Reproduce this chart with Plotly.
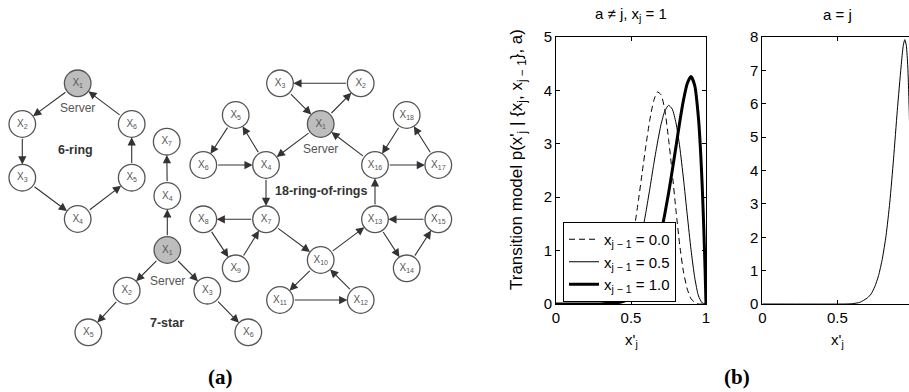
import math
import plotly.graph_objects as go

# ---------------- panel (b) data ----------------
x_left = [0.0, 0.30, 0.325, 0.35, 0.375, 0.40, 0.425, 0.45, 0.475, 0.50, 0.525, 0.55, 0.575,
          0.60, 0.625, 0.65, 0.675, 0.70, 0.725, 0.75, 0.775, 0.80, 0.825, 0.85, 0.875,
          0.90, 0.925, 0.95, 0.975, 1.0]
y_prev00 = [0, 0.01, 0.02, 0.05, 0.10, 0.17, 0.30, 0.48, 0.73, 1.06, 1.47, 1.95, 2.47,
            2.98, 3.44, 3.79, 3.97, 3.92, 3.64, 3.10, 2.45, 1.75, 1.10, 0.60, 0.28,
            0.10, 0.03, 0.0, 0.0, 0.0]
y_prev05 = [0, 0.01, 0.015, 0.03, 0.05, 0.09, 0.15, 0.23, 0.36, 0.52, 0.74, 1.02, 1.35,
            1.73, 2.15, 2.59, 3.00, 3.36, 3.61, 3.72, 3.65, 3.39, 2.94, 2.34, 1.67,
            1.02, 0.49, 0.15, 0.02, 0.0]
x_thick = [0.0, 0.30, 0.35, 0.40, 0.45, 0.50, 0.55, 0.60, 0.65, 0.70, 0.725, 0.75, 0.775,
           0.80, 0.825, 0.85, 0.875, 0.90, 0.925, 0.95, 0.965, 0.975, 0.985, 0.995, 1.0]
y_prev10 = [0, 0.0, 0.01, 0.02, 0.05, 0.11, 0.23, 0.44, 0.80, 1.33, 1.68, 2.07, 2.50,
            2.95, 3.41, 3.82, 4.13, 4.26, 4.09, 3.47, 2.80, 2.19, 1.44, 0.53, 0.0]
x_right = [0.0, 0.55, 0.60, 0.65, 0.70, 0.725, 0.75, 0.775, 0.80, 0.825, 0.85, 0.875, 0.90,
           0.925, 0.94, 0.95, 0.96, 0.97, 0.98, 0.99, 1.0]
y_right = [0, 0.0, 0.01, 0.05, 0.18, 0.30, 0.52, 0.85, 1.35, 2.05, 3.05, 4.35, 5.80,
           7.10, 7.75, 7.92, 7.75, 7.10, 5.70, 3.40, 0.0]

legend_names = ["x<sub>j − 1</sub> = 0.0", "x<sub>j − 1</sub> = 0.5", "x<sub>j − 1</sub> = 1.0"]
x_tickvals = [0, 0.5, 1]
x_ticktext = ["0", "0.5", "1"]
y_ticks_left = [0, 1, 2, 3, 4, 5]
y_ticks_right = [0, 1, 2, 3, 4, 5, 6, 7, 8]

# ---------------- panel (a) network diagrams ----------------
ring6_nodes = {1: (77.7, 83.3), 2: (22.3, 124), 3: (22.3, 177.7), 4: (77.7, 219),
               5: (131.7, 177.7), 6: (131.7, 124)}
ring6_edges = [(1, 2), (2, 3), (3, 4), (4, 5), (5, 6), (6, 1)]

star7_nodes = {1: (167.3, 250), 2: (126.7, 290.7), 3: (207.3, 290.7), 4: (167.3, 196),
               5: (88.3, 332.3), 6: (248.3, 332.3), 7: (166.7, 141.7)}
star7_edges = [(1, 4), (4, 7), (1, 2), (2, 5), (1, 3), (3, 6)]

rr_nodes = {1: (320.7, 124), 2: (360.7, 83.3), 3: (280, 83.3), 4: (266, 165),
            5: (235.7, 115), 6: (203.3, 165), 7: (266, 219.3), 8: (203.3, 219.3),
            9: (235.7, 268.3), 10: (320.7, 260), 11: (280, 300), 12: (360.7, 300),
            13: (375, 219.3), 14: (406.7, 268.3), 15: (438.3, 219.3), 16: (375, 165),
            17: (438.3, 165), 18: (406.7, 115)}
rr_edges = [(2, 3), (3, 1), (1, 2), (1, 4), (4, 5), (5, 6), (6, 4), (4, 7), (7, 8), (8, 9),
            (9, 7), (7, 10), (10, 11), (11, 12), (12, 10), (10, 13), (15, 13), (13, 14),
            (14, 15), (13, 16), (16, 17), (17, 18), (18, 16), (16, 1)]

graphs = [(ring6_nodes, ring6_edges, "6-ring", (75, 150), (77.7, 108)),
          (star7_nodes, star7_edges, "7-star", (167.3, 322.7), (167.3, 280.7)),
          (rr_nodes, rr_edges, "18-ring-of-rings", (320.7, 191), (320.7, 149.3))]

W, H = 909, 392
R = 13.3
fig = go.Figure()

# curves
fig.add_trace(go.Scatter(x=x_left, y=y_prev00, mode="lines", name=legend_names[0],
                         line=dict(color="black", width=1, dash="6px,4px", shape="spline", smoothing=0.6),
                         xaxis="x", yaxis="y"))
fig.add_trace(go.Scatter(x=x_left, y=y_prev05, mode="lines", name=legend_names[1],
                         line=dict(color="black", width=1, shape="spline", smoothing=0.6),
                         xaxis="x", yaxis="y"))
fig.add_trace(go.Scatter(x=x_thick, y=y_prev10, mode="lines", name=legend_names[2],
                         line=dict(color="black", width=3, shape="spline", smoothing=0.6),
                         xaxis="x", yaxis="y"))
fig.add_trace(go.Scatter(x=x_right, y=y_right, mode="lines", showlegend=False,
                         line=dict(color="black", width=1, shape="spline", smoothing=0.6),
                         xaxis="x2", yaxis="y2"))

annotations = []
# network nodes
nx, ny, ntext, nfill = [], [], [], []
for nodes, edges, gname, gpos, spos in graphs:
    for k, (px, py) in nodes.items():
        nx.append(px); ny.append(py)
        ntext.append("X<sub>%d</sub>" % k)
        nfill.append("#bdbdbd" if k == 1 else "white")
    for a, b in edges:
        xa, ya = nodes[a]; xb, yb = nodes[b]
        d = math.hypot(xb - xa, yb - ya)
        ux, uy = (xb - xa) / d, (yb - ya) / d
        annotations.append(dict(x=xb - ux * R, y=yb - uy * R, ax=xa + ux * R, ay=ya + uy * R,
                                xref="x3", yref="y3", axref="x3", ayref="y3", text="",
                                showarrow=True, arrowhead=2, arrowsize=1.5, arrowwidth=1.1,
                                arrowcolor="#333", standoff=0, startstandoff=0))
    annotations.append(dict(x=gpos[0], y=gpos[1], xref="x3", yref="y3", text="<b>%s</b>" % gname,
                            xanchor="center", yanchor="middle",
                            showarrow=False, font=dict(family="Arial", size=12.5, color="#333")))
    annotations.append(dict(x=spos[0], y=spos[1], xref="x3", yref="y3", text="Server",
                            xanchor="center", yanchor="middle",
                            showarrow=False, font=dict(family="Arial", size=12, color="#555")))

fig.add_trace(go.Scatter(x=nx, y=ny, mode="markers", showlegend=False, hoverinfo="skip",
                         marker=dict(size=2 * R, color=nfill, line=dict(color="#555", width=1.3)),
                         xaxis="x3", yaxis="y3"))
fig.add_trace(go.Scatter(x=nx, y=ny, mode="text", text=ntext, showlegend=False, hoverinfo="skip",
                         textfont=dict(family="Arial", size=10, color="#555"),
                         xaxis="x3", yaxis="y3"))


def ptext(px, py, text, font, **kw):
    return dict(x=px / W, y=1 - py / H, xref="paper", yref="paper", text=text, showarrow=False,
                xanchor="center", yanchor="middle", font=font, **kw)


lab = dict(family="Arial", size=15, color="black")
annotations += [
    ptext(631, 15, "a ≠ j, x<sub>j</sub> = 1", dict(family="Arial", size=15, color="black")),
    ptext(837, 15, "a = j", dict(family="Arial", size=15, color="black")),
    ptext(631, 340, "x'<sub>j</sub>", lab),
    ptext(837, 340, "x'<sub>j</sub>", lab),
    ptext(518, 160, "Transition model p(x'<sub>j</sub> | {x<sub>j</sub>, x<sub>j − 1</sub>}, a)",
          dict(family="Arial", size=17, color="black"), textangle=-90),
    ptext(220, 377, "<b>(a)</b>", dict(family="Liberation Serif", size=21, color="black")),
    ptext(737, 377, "<b>(b)</b>", dict(family="Liberation Serif", size=21, color="black")),
]

ax_common = dict(showline=True, linecolor="black", linewidth=1, ticks="inside", ticklen=4,
                 tickcolor="black", showgrid=False, zeroline=False,
                 tickfont=dict(family="Arial", size=15, color="black"))

fig.update_layout(
    width=W, height=H, autosize=False,
    margin=dict(l=0, r=0, t=0, b=0, pad=0, autoexpand=False),
    paper_bgcolor="white", plot_bgcolor="rgba(0,0,0,0)",
    xaxis=dict(domain=[556 / W, 706 / W], range=[0, 1], tickvals=x_tickvals, ticktext=x_ticktext,
               mirror="ticks", anchor="y", **ax_common),
    yaxis=dict(domain=[1 - 304 / H, 1 - 37 / H], range=[0, 5], tickvals=y_ticks_left,
               mirror="ticks", anchor="x", **ax_common),
    xaxis2=dict(domain=[762.3 / W, 1], range=[0, (W - 762.3) / 150], tickvals=x_tickvals,
                ticktext=x_ticktext, mirror="ticks", anchor="y2", **ax_common),
    yaxis2=dict(domain=[1 - 304 / H, 1 - 37 / H], range=[0, 8], tickvals=y_ticks_right,
                mirror=False, anchor="x2", **ax_common),
    xaxis3=dict(domain=[0, 1], range=[0, W], visible=False, anchor="y3"),
    yaxis3=dict(domain=[0, 1], range=[H, 0], visible=False, anchor="x3"),
    legend=dict(x=563 / W, y=1 - 222 / H, xanchor="left", yanchor="top", bgcolor="white",
                bordercolor="black", borderwidth=1, font=dict(family="Arial", size=15, color="black"),
                itemwidth=30, tracegroupgap=0),
    annotations=annotations,
    showlegend=True,
)

post = ("var d=document.getElementById('{plot_id}');"
        "d.style.position='fixed';d.style.left='0px';d.style.top='0px';"
        "document.documentElement.style.overflow='hidden';"
        "document.body.style.margin='0px';document.body.style.overflow='hidden';"
        "document.body.style.height='392px';")

fig.write_html("out.html", config={"displayModeBar": False}, post_script=post)
